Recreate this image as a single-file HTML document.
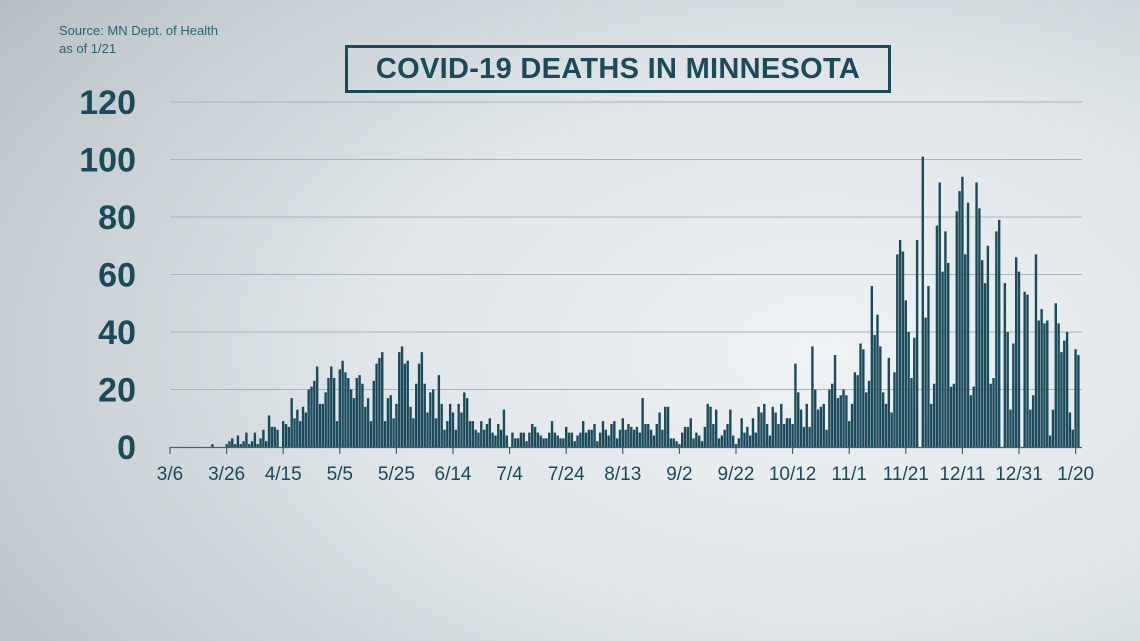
<!DOCTYPE html>
<html><head><meta charset="utf-8"><style>
body{margin:0;width:1140px;height:641px;overflow:hidden;font-family:"Liberation Sans",sans-serif;}
#bg{position:absolute;left:0;top:0;width:1140px;height:641px;background:radial-gradient(ellipse 90% 95% at 72% 55%,#eef2f4 0%,#dfe5e9 45%,#c2cbd0 85%,#b2bcc2 100%);}
.src{position:absolute;left:59px;font-size:13px;color:#2f6070;}
#title{position:absolute;left:345px;top:45px;width:540px;height:42px;border:3px solid #1b4a5a;color:#1b4a5a;font-weight:bold;font-size:29px;text-align:center;line-height:43px;letter-spacing:0.3px;}
svg{position:absolute;left:0;top:0;}
</style></head><body>
<div id="bg"></div>
<div class="src" style="top:23px">Source: MN Dept. of Health</div>
<div class="src" style="top:41px">as of 1/21</div>
<div id="title">COVID-19 DEATHS IN MINNESOTA</div>
<svg id="chart" width="1140" height="641"></svg>
<script>
const yTicks=[0,20,40,60,80,100,120];
const xTickLabels=["3/6","3/26","4/15","5/5","5/25","6/14","7/4","7/24","8/13","9/2","9/22","10/12","11/1","11/21","12/11","12/31","1/20"];
const xTickDays=[0,20,40,60,80,100,120,140,160,180,200,220,240,260,280,300,320];
const deaths=[0,0,0,0,0,0,0,0,0,0,0,0,0,0,0,1,0,0,0,0,
1,2,3,1,4,1,2,5,1,2,5,1,3,6,2,11,7,7,6,0,
9,8,7,17,10,13,9,14,12,20,21,23,28,15,15,19,24,28,24,9,
27,30,26,24,20,17,24,25,22,14,17,9,23,29,31,33,9,17,18,10,
15,33,35,29,30,14,10,22,29,33,22,12,19,20,10,25,15,6,9,15,
12,6,15,12,19,17,9,9,6,5,9,6,8,10,5,4,8,6,13,4,
0,5,3,3,5,5,2,5,8,7,5,4,3,3,5,9,5,4,3,3,
7,5,5,2,4,5,9,5,6,6,8,2,5,9,6,4,8,9,3,6,
10,6,8,7,6,7,5,17,8,8,6,4,8,12,6,14,14,3,3,2,
1,5,7,7,10,3,5,4,2,7,15,14,8,13,3,4,6,8,13,4,
1,3,10,5,7,4,10,5,14,12,15,8,4,14,12,8,15,8,10,10,
8,29,19,13,7,15,7,35,20,13,14,15,6,20,22,32,17,18,20,18,
9,15,26,25,36,34,19,23,56,39,46,35,19,15,
31,12,26,67,72,68,51,40,24,38,72,0,101,45,56,15,22,77,92,61,75,64,21,22,82,89,94,67,85,18,21,92,83,65,57,70,22,24,75,79,0,57,40,13,36,66,61,0,54,53,13,18,67,44,48,43,44,4,13,50,43,33,37,40,12,6,34,32];
const NS="http://www.w3.org/2000/svg";
const svg=document.getElementById('chart');
const x0=170,pxDay=2.83,y0=447,pxUnit=57.5/20;
const xs=d=>x0+d*pxDay;
const ys=v=>y0-v*pxUnit;
function mk(t,a){const e=document.createElementNS(NS,t);for(const k in a)e.setAttribute(k,a[k]);svg.appendChild(e);return e;}
yTicks.forEach(v=>{
  if(v>0){const g=mk('line',{x1:170,x2:1082,y1:ys(v),y2:ys(v),stroke:'#a9b3b9','stroke-width':1});
  
  }
  const t=mk('text',{x:136,y:ys(v)+12,'text-anchor':'end','font-size':34,'font-weight':'bold',fill:'#1b4a5a','font-family':'Liberation Sans, sans-serif'});
  t.textContent=v;
  
  
});
deaths.forEach((v,i)=>{
  if(v<=0)return;
  const r=mk('rect',{x:xs(i)-1.2,y:ys(v),width:2.4,height:v*pxUnit,fill:'#1b4a5a'});
  
  
});
const ax=mk('line',{x1:170,x2:1082,y1:y0+0.5,y2:y0+0.5,stroke:'#3d6573','stroke-width':1.2});


xTickDays.forEach((d,i)=>{
  const tk=mk('line',{x1:xs(d),x2:xs(d),y1:y0,y2:y0+7,stroke:'#3d6573','stroke-width':1.2});
  
  
  const t=mk('text',{x:xs(d),y:480,'text-anchor':'middle','font-size':19,fill:'#1b4a5a','font-family':'Liberation Sans, sans-serif'});
  t.textContent=xTickLabels[i];
  
  
});
</script>
</body></html>
